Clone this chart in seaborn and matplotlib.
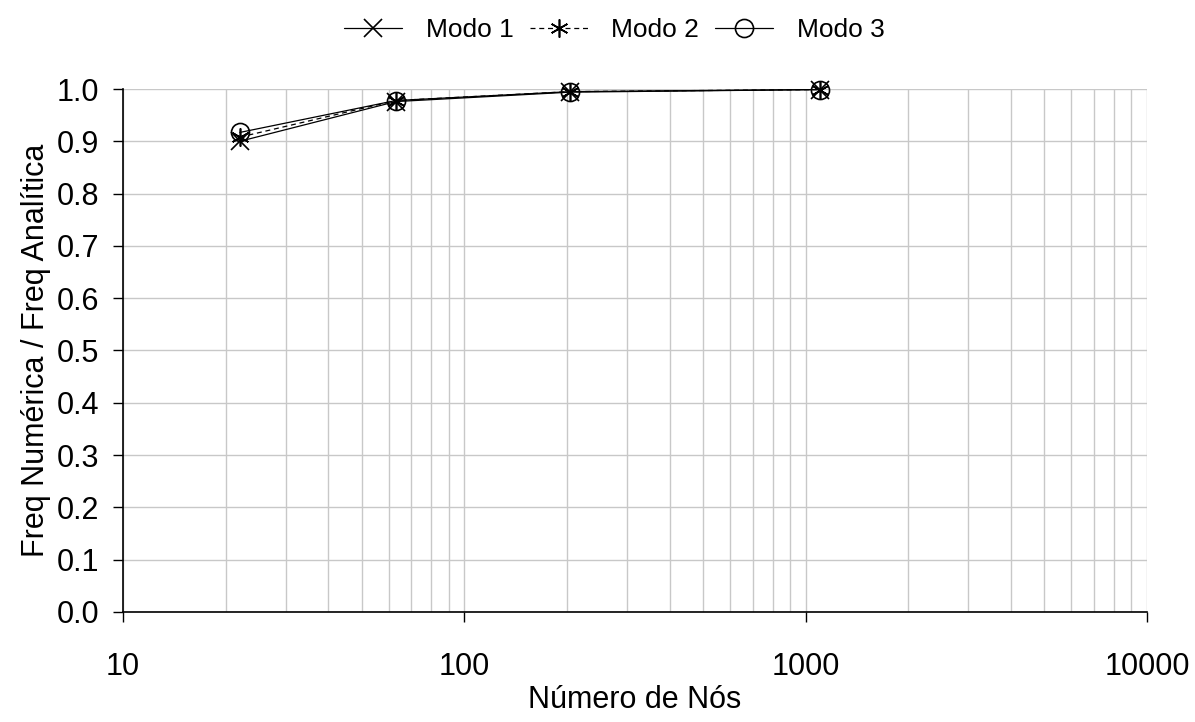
"""Razao entre frequencia numerica e analitica vs numero de nos."""

import matplotlib
matplotlib.use("Agg")
import matplotlib.pyplot as plt
from matplotlib.ticker import FixedLocator, LogLocator, NullFormatter
import numpy as np
import pandas as pd
import seaborn as sns

# ── dados ─────────────────────────────────────────────────────
nos = [22, 63, 204, 1100]
modo_1 = [0.900, 0.976, 0.994, 0.999]
modo_2 = [0.908, 0.978, 0.995, 0.999]
modo_3 = [0.917, 0.978, 0.995, 0.999]
modos = ["Modo 1", "Modo 2", "Modo 3"]

sns.set_style("white")
plt.rcParams["font.family"] = ["Liberation Sans", "DejaVu Sans"]
plt.rcParams["text.color"] = "black"

fig = plt.figure(figsize=(11.95, 7.22), dpi=100)
ax = fig.add_axes([0.1029, 0.1524, 0.8569, 0.7243])

# estilo de cada modo: marcador, tracejado
estilos = {
    "Modo 1": ("x", "-"),
    "Modo 2": ((6, 2, 0), (0, (4, 3))),
    "Modo 3": ("o", "-"),
}
for nome, valores in zip(modos, [modo_1, modo_2, modo_3]):
    mk, ls = estilos[nome]
    df = pd.DataFrame({"nos": nos, "razao": valores})
    sns.lineplot(data=df, x="nos", y="razao", ax=ax, label=nome,
                 color="black", linewidth=0.9, linestyle=ls,
                 marker=mk, markersize=13, markeredgewidth=1.2,
                 markerfacecolor="none", markeredgecolor="black",
                 zorder=3, clip_on=False)

ax.set_xscale("log")
ax.set_xlim(10, 10000)
ax.set_ylim(0, 1.0)
ax.xaxis.set_major_locator(FixedLocator([10, 100, 1000, 10000]))
ax.xaxis.set_minor_locator(LogLocator(base=10, subs=np.arange(2, 10)))
ax.xaxis.set_minor_formatter(NullFormatter())
ax.set_xticklabels(["10", "100", "1000", "10000"])
ax.set_yticks(np.arange(0, 1.01, 0.1))
ax.set_yticklabels([f"{v:.1f}" for v in np.arange(0, 1.01, 0.1)])

ax.grid(True, which="major", color="#c8c8c8", linewidth=1.0)
ax.grid(True, which="minor", axis="x", color="#c8c8c8", linewidth=1.0)
ax.set_axisbelow(True)

for s in ["top", "right"]:
    ax.spines[s].set_visible(False)
for s in ["left", "bottom"]:
    ax.spines[s].set_color("black")
    ax.spines[s].set_linewidth(1.2)

ax.tick_params(axis="both", which="major", direction="out", length=7,
               width=1.0, color="black", labelsize=22, labelcolor="black",
               bottom=True, left=True)
ax.tick_params(axis="x", pad=22)
ax.tick_params(axis="y", pad=10)
ax.tick_params(axis="x", which="minor", length=0)

ax.set_xlabel("Número de Nós", fontsize=22, labelpad=2, color="black")
ax.set_ylabel("Freq Numérica / Freq Analítica", fontsize=22, labelpad=4,
              color="black")

leg = ax.legend(loc="center", bbox_to_anchor=(0.48, 1.113), ncol=3,
                frameon=False, fontsize=19, handlelength=2.2,
                columnspacing=0.6, handletextpad=0.9)
for t in leg.get_texts():
    t.set_color("black")

fig.savefig("out.png", dpi=100)
